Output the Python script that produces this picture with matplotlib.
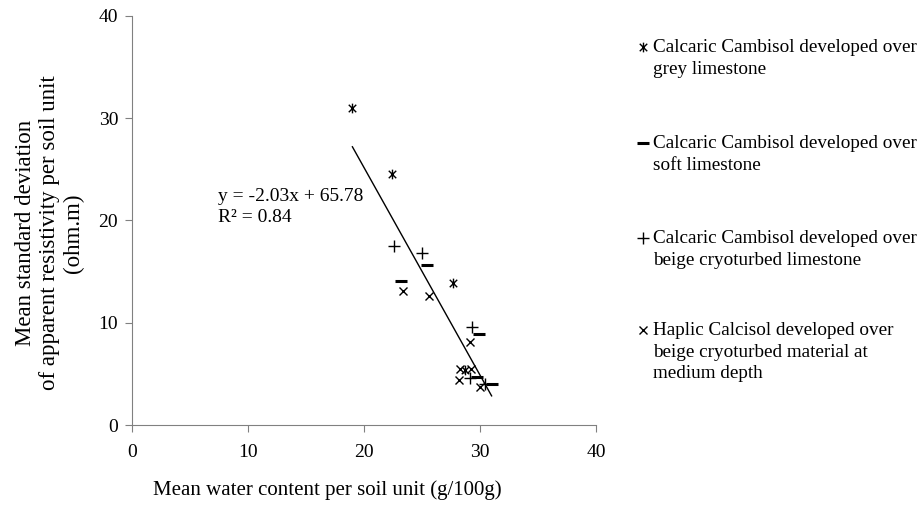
import numpy as np
import matplotlib
matplotlib.use("Agg")
import matplotlib.pyplot as plt
from matplotlib.path import Path
from matplotlib.lines import Line2D

plt.rcParams["font.family"] = ["Liberation Serif", "DejaVu Serif"]

# data
grey_x = [19.0, 22.4, 27.7, 28.7]
grey_y = [31.0, 24.5, 13.9, 5.4]
soft_x = [25.4, 23.2, 29.9, 29.7, 31.0]
soft_y = [15.6, 14.1, 8.9, 4.7, 4.0]
beige_x = [22.6, 25.0, 29.3, 29.1, 30.4]
beige_y = [17.5, 16.8, 9.6, 4.6, 4.0]
haplic_x = [23.4, 25.6, 29.1, 28.3, 29.2, 28.2, 30.0]
haplic_y = [13.1, 12.6, 8.1, 5.5, 5.5, 4.4, 3.7]

slope, intercept = -2.03, 65.78
fit_x = [19.0, 31.0]

labels = ["Calcaric Cambisol developed over\ngrey limestone",
          "Calcaric Cambisol developed over\nsoft limestone",
          "Calcaric Cambisol developed over\nbeige cryoturbed limestone",
          "Haplic Calcisol developed over\nbeige cryoturbed material at\nmedium depth"]

# excel style asterisk: X with a vertical bar
star = Path([(-1, -1), (1, 1), (-1, 1), (1, -1), (0, -1.3), (0, 1.3)],
            [Path.MOVETO, Path.LINETO, Path.MOVETO, Path.LINETO, Path.MOVETO, Path.LINETO])

W, H = 921, 505
fig = plt.figure(figsize=(W / 100, H / 100), dpi=100)
ax = fig.add_axes([132 / W, 1 - 425 / H, 464 / W, 409 / H])

styles = [dict(marker=star, ms=7, mew=1),
          dict(marker="_", ms=8, mew=2.2),
          dict(marker="+", ms=8, mew=1),
          dict(marker="x", ms=6, mew=1)]
series = [(grey_x, grey_y), (soft_x, soft_y), (beige_x, beige_y), (haplic_x, haplic_y)]
for (sx, sy), st in zip(series, styles):
    ax.plot(sx, sy, ls="none", mec="black", mfc="black", **st)

fx = np.array(fit_x)
ax.plot(fx, slope * fx + intercept, color="black", lw=1)
ax.text(7.4, 23.2, "y = -2.03x + 65.78\nR² = 0.84", fontsize=14, va="top", ha="left",
        linespacing=1.3)

ax.set_xlim(0, 40)
ax.set_ylim(0, 40)
ax.set_xticks([0, 10, 20, 30, 40])
ax.set_yticks([0, 10, 20, 30, 40])
for s in ["top", "right"]:
    ax.spines[s].set_visible(False)
for s in ["left", "bottom"]:
    ax.spines[s].set_color("#808080")
ax.tick_params(direction="out", length=5, color="#808080", labelsize=14)
ax.tick_params(axis="x", pad=9)
ax.tick_params(axis="y", pad=5)

ax.set_xlabel("Mean water content per soil unit (g/100g)", fontsize=15)
ax.xaxis.set_label_coords(0.42, -0.135)
ax.set_ylabel("Mean standard deviation\nof apparent resistivity per soil unit\n(ohm.m)",
              fontsize=16.5, linespacing=1.2)
ax.yaxis.set_label_coords(-0.103, 0.47)

# legend drawn by hand so the marker sits on the first line of each label
leg_y = [47, 143, 238, 330]
for lab, st, yy in zip(labels, styles, leg_y):
    fig.add_artist(Line2D([643 / W], [1 - yy / H], ls="none", mec="black", mfc="black",
                          transform=fig.transFigure, **st))
    fig.text(653 / W, 1 - (yy - 8) / H, lab, fontsize=13.8, va="top", ha="left",
             linespacing=1.35)

fig.savefig("out.png", dpi=100)
